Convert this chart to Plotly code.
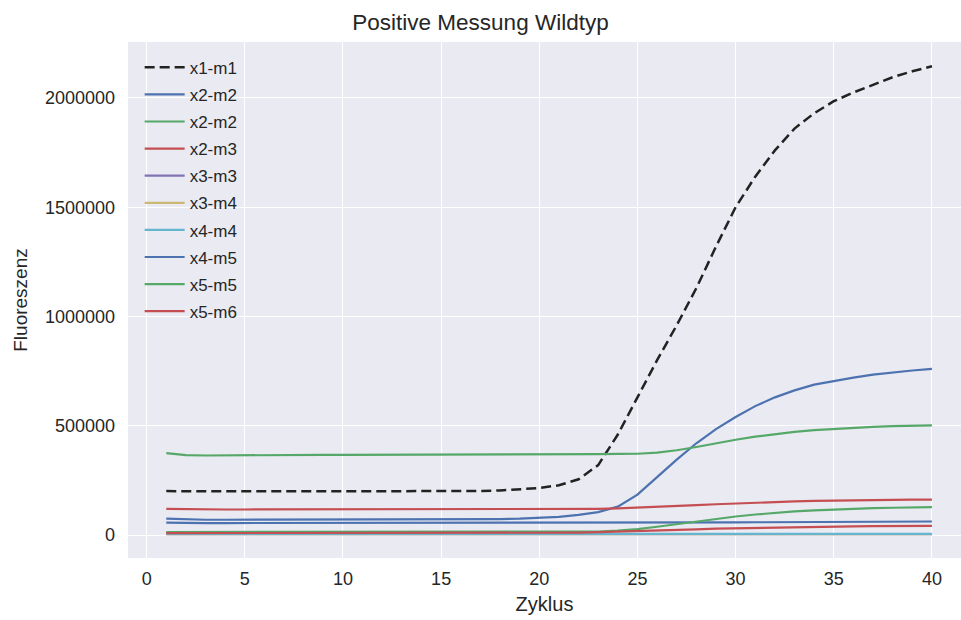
import plotly.graph_objects as go

cycles = list(range(1, 41))

x1_m1 = [201000, 200000, 199000, 200000, 200000, 200000, 199000, 200000, 200000, 200000,
         200000, 200000, 200000, 200000, 201000, 201000, 202000, 204000, 208000, 215000,
         228000, 255000, 320000, 460000, 630000, 800000, 960000, 1130000, 1320000, 1500000,
         1640000, 1760000, 1860000, 1930000, 1985000, 2025000, 2060000, 2095000, 2122000, 2145000]

x2_m2_blue = [75000, 72000, 70000, 70000, 70000, 70000, 70000, 70000, 70000, 70000,
              70000, 70000, 71000, 71000, 71000, 72000, 72000, 73000, 75000, 78000,
              83000, 92000, 105000, 130000, 185000, 265000, 345000, 420000, 485000, 540000,
              590000, 630000, 662000, 688000, 705000, 720000, 734000, 745000, 753000, 760000]

x2_m2_green = [375000, 366000, 364000, 365000, 365000, 366000, 366000, 366000, 367000, 367000,
               367000, 367000, 367000, 368000, 368000, 368000, 368000, 368000, 369000, 369000,
               369000, 369000, 370000, 371000, 372000, 377000, 388000, 403000, 420000, 436000,
               450000, 462000, 472000, 480000, 486000, 491000, 495000, 498000, 500000, 502000]

x2_m3 = [120000, 118000, 117000, 117000, 117000, 117000, 117000, 117000, 117000, 117000,
         117000, 117000, 117000, 117000, 117000, 117000, 117000, 117000, 117000, 118000,
         118000, 118000, 120000, 122000, 125000, 129000, 133000, 137000, 141000, 145000,
         148000, 151000, 154000, 156000, 158000, 159000, 160000, 161000, 162000, 162000]

x3_m3 = [4000] * 40

x3_m4 = [4500] * 40

x4_m4 = [5000] * 40

x4_m5 = [57000, 55000, 55000, 55000, 55000, 55000, 55000, 55000, 55000, 55000,
         55000, 55000, 55000, 55000, 55000, 55000, 55000, 55000, 55000, 55000,
         55000, 55000, 55000, 55000, 55000, 56000, 56500, 57000, 57500, 58000,
         58500, 59000, 59500, 60000, 60500, 61000, 61500, 62000, 62000, 62000]

x5_m5 = [14000, 14000, 14000, 14000, 14000, 14000, 14000, 14000, 14000, 14000,
         14000, 14000, 14000, 14000, 14000, 14000, 14000, 14000, 14000, 14000,
         14000, 14500, 16000, 20000, 27000, 38000, 50000, 62000, 74000, 85000,
         94000, 102000, 108000, 113000, 117000, 120000, 123000, 125000, 127000, 128000]

x5_m6 = [9000, 9000, 9000, 9000, 9000, 9000, 9000, 9000, 9000, 9000,
         9000, 9000, 9000, 9000, 9000, 9000, 9000, 9000, 9000, 9000,
         10000, 11000, 13000, 15000, 17000, 20000, 23000, 26000, 29000, 31000,
         33000, 35000, 36500, 38000, 39000, 40000, 40500, 41000, 41500, 42000]

names = ["x1-m1", "x2-m2", "x2-m2", "x2-m3", "x3-m3", "x3-m4", "x4-m4", "x4-m5", "x5-m5", "x5-m6"]
series = [x1_m1, x2_m2_blue, x2_m2_green, x2_m3, x3_m3, x3_m4, x4_m4, x4_m5, x5_m5, x5_m6]
colors = ["#222222", "#4C72B0", "#55A868", "#C44E52", "#8172B2", "#CCB974", "#64B5CD",
          "#4C72B0", "#55A868", "#C44E52"]

xticks = [0, 5, 10, 15, 20, 25, 30, 35, 40]
yticks = [0, 500000, 1000000, 1500000, 2000000]

FONT = "Liberation Sans, Arial, Helvetica, sans-serif"
TXT = "#262626"

fig = go.Figure()
for i, (nm, ys, c) in enumerate(zip(names, series, colors)):
    fig.add_trace(go.Scatter(
        x=cycles, y=ys, mode="lines", name=nm, legendgroup=f"g{i}",
        line=dict(color=c, width=2.5 if i == 0 else 2.2,
                  dash="10px,5px" if i == 0 else "solid"),
    ))

fig.update_layout(
    width=961, height=620,
    margin=dict(l=128, r=0, t=42, b=62),
    paper_bgcolor="white", plot_bgcolor="#EAEAF2",
    font=dict(family=FONT, color=TXT, size=18),
    title=dict(text="Positive Messung Wildtyp", x=0.5, xanchor="center",
               y=1 - 22 / 620, yanchor="middle", font=dict(size=22.5, color=TXT)),
    showlegend=True,
    legend=dict(x=0.014, y=0.985, xanchor="left", yanchor="top",
                bgcolor="rgba(0,0,0,0)", font=dict(size=17, color=TXT),
                tracegroupgap=2, itemwidth=40),
    xaxis=dict(range=[-0.95, 41.48], tickvals=xticks, ticktext=[str(t) for t in xticks],
               showgrid=True, gridcolor="white", gridwidth=1.2, zeroline=False,
               showline=False, ticks="", ticklabelstandoff=8,
               title=dict(text="Zyklus", font=dict(size=20, color=TXT), standoff=8)),
    yaxis=dict(range=[-105000, 2256000], tickvals=yticks, ticktext=[str(t) for t in yticks],
               showgrid=True, gridcolor="white", gridwidth=1.2, zeroline=False,
               showline=False, ticks="", ticklabelstandoff=12,
               title=dict(text="Fluoreszenz", font=dict(size=19, color=TXT), standoff=12)),
)

fig.write_html("out.html")
